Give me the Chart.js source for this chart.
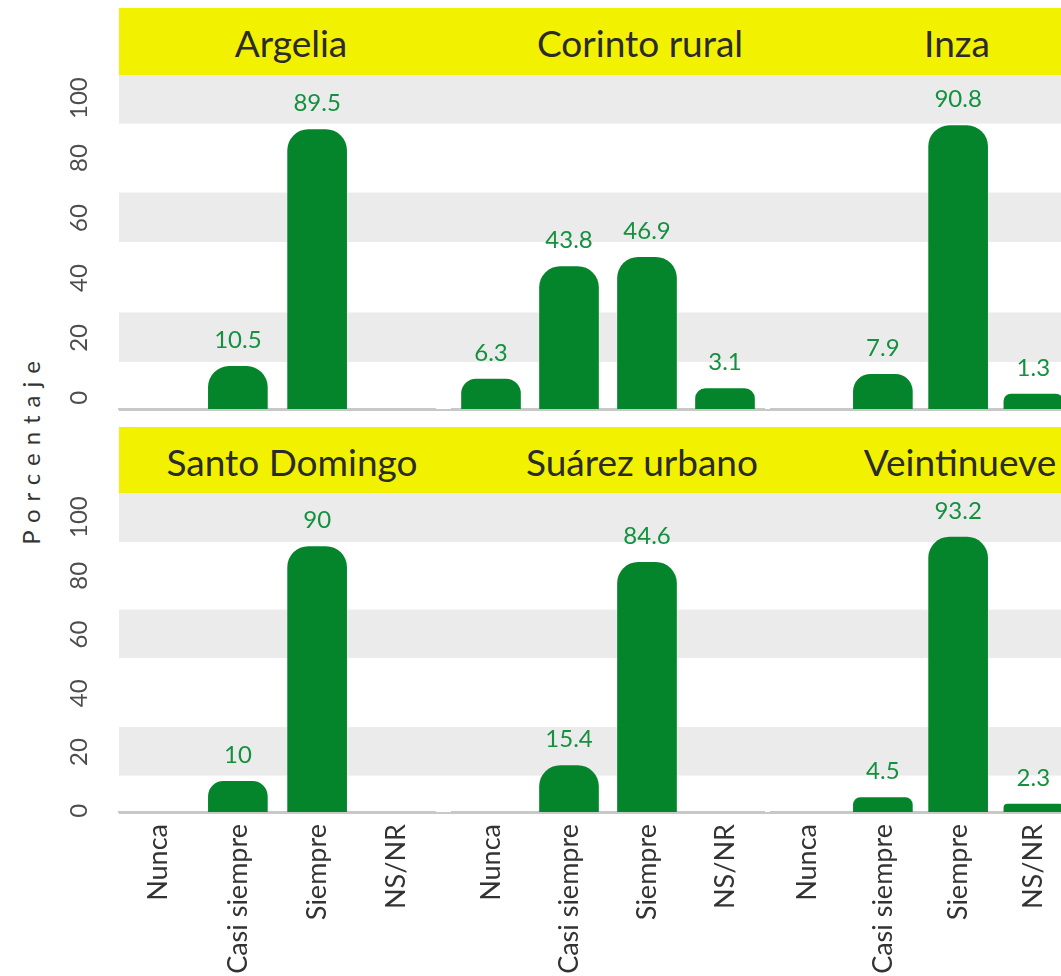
<!DOCTYPE html>
<html lang="es">
<head>
<meta charset="UTF-8">
<title>Porcentaje por municipio</title>
<script src="https://cdn.jsdelivr.net/npm/chart.js@4.4.1/dist/chart.umd.min.js"></script>
<style>
    body { margin: 0; background: #fff; }
    .lienzo { position: relative; width: 1061px; height: 976px; overflow: hidden; font-family: Lato, "Open Sans", sans-serif; }
    .tira { position: absolute; left: 119px; width: 942px; height: 67px; background: #f2f200; }
    .tira span { position: absolute; top: 50%; transform: translate(-50%, -50%); font-size: 37px; color: #2b2b2b; white-space: nowrap; }
    canvas { position: absolute; }
    .ytitulo { position: absolute; left: 30px; top: 449px; transform: translate(-50%, -50%) rotate(-90deg); font-size: 24px; letter-spacing: 8px; color: #333; white-space: nowrap; }
</style>
</head>
<body>
<div class="lienzo">
    <div class="tira" style="top:8px">
        <span style="left:172px">Argelia</span>
        <span style="left:521px">Corinto rural</span>
        <span style="left:838px">Inza</span>
    </div>
    <div class="tira" style="top:427px">
        <span style="left:173px">Santo Domingo</span>
        <span style="left:523px">Suárez urbano</span>
        <span style="left:841px">Veintinueve</span>
    </div>
    <div class="ytitulo">Porcentaje</div>

    <canvas id="c_argelia" width="436" height="340" style="left:0;top:75px"></canvas>
    <canvas id="c_corinto" width="334" height="340" style="left:436px;top:75px"></canvas>
    <canvas id="c_inza" width="301" height="340" style="left:770px;top:75px"></canvas>
    <canvas id="c_santo" width="436" height="483" style="left:0;top:493px"></canvas>
    <canvas id="c_suarez" width="334" height="483" style="left:436px;top:493px"></canvas>
    <canvas id="c_veinti" width="301" height="483" style="left:770px;top:493px"></canvas>
</div>

<script>
    // datos
    var categorias = ['Nunca', 'Casi siempre', 'Siempre', 'NS/NR'];
    var argelia = [null, 10.5, 89.5, null];
    var corinto = [6.3, 43.8, 46.9, 3.1];
    var inza = [null, 7.9, 90.8, 1.3];
    var santoDomingo = [null, 10, 90, null];
    var suarez = [null, 15.4, 84.6, null];
    var veintinueve = [null, 4.5, 93.2, 2.3];
    var ticksY = [0, 20, 40, 60, 80, 100];
    var bandas = [[12, 28.5], [52, 68.5], [91.5, 110]];

    var verde = '#05852b';
    var verdeTexto = '#13913e';

    // franjas grises de fondo + linea base continua entre paneles
    var pluginBandas = {
        id: 'bandas',
        beforeDraw: function (chart) {
            var ctx = chart.ctx;
            var area = chart.chartArea;
            var y = chart.scales.y;
            var x0 = y.options.display ? area.left : 0;
            ctx.save();
            ctx.fillStyle = '#ebebeb';
            bandas.forEach(function (b) {
                var arriba = Math.max(y.getPixelForValue(b[1]), area.top);
                var abajo = Math.min(y.getPixelForValue(b[0]), area.bottom);
                ctx.fillRect(x0, arriba, chart.width - x0, abajo - arriba);
            });
            ctx.strokeStyle = '#c8c8c8';
            ctx.lineWidth = 2;
            ctx.beginPath();
            ctx.moveTo(x0, area.bottom + 1);
            ctx.lineTo(chart.width, area.bottom + 1);
            ctx.stroke();
            ctx.restore();
        }
    };

    // etiquetas de valor encima de las barras
    var pluginEtiquetas = {
        id: 'etiquetas',
        afterDatasetsDraw: function (chart) {
            var ctx = chart.ctx;
            var meta = chart.getDatasetMeta(0);
            var datos = chart.data.datasets[0].data;
            ctx.save();
            ctx.font = '24px Lato, "Open Sans", sans-serif';
            ctx.fillStyle = verdeTexto;
            ctx.textAlign = 'center';
            ctx.textBaseline = 'bottom';
            meta.data.forEach(function (barra, i) {
                if (datos[i] == null) return;
                ctx.fillText(String(datos[i]), barra.x, barra.y - 14);
            });
            ctx.restore();
        }
    };

    function crearPanel(id, valores, conEjeY, conEtiquetasX, yMin, yMax, padIzq, padDer) {
        return new Chart(document.getElementById(id), {
            type: 'bar',
            data: {
                labels: categorias,
                datasets: [{
                    data: valores,
                    backgroundColor: verde,
                    borderRadius: { topLeft: 21, topRight: 21 },
                    borderSkipped: 'bottom',
                    barThickness: 59,
                    base: yMin
                }]
            },
            options: {
                responsive: false,
                animation: false,
                layout: { padding: { left: padIzq, right: padDer, top: 0, bottom: 0 } },
                plugins: { legend: { display: false }, tooltip: { enabled: false } },
                scales: {
                    x: {
                        grid: { display: false, drawTicks: false },
                        border: { color: '#c8c8c8', width: 2 },
                        ticks: {
                            display: conEtiquetasX,
                            minRotation: 90, maxRotation: 90,
                            padding: 12,
                            color: '#333',
                            font: { family: 'Lato', size: 27 }
                        },
                        afterFit: function (s) {
                            s.height = conEtiquetasX ? 164 : 6;
                            s.paddingLeft = 0;
                            s.paddingRight = 0;
                        }
                    },
                    y: {
                        display: conEjeY,
                        min: yMin, max: yMax,
                        grid: { display: false, drawTicks: false },
                        border: { display: false },
                        ticks: {
                            minRotation: 90, maxRotation: 90,
                            crossAlign: 'center',
                            padding: 19,
                            color: '#4d4d4d',
                            font: { family: 'Lato', size: 24 }
                        },
                        afterBuildTicks: function (s) {
                            s.ticks = ticksY.map(function (v) { return { value: v }; });
                        },
                        afterFit: function (s) {
                            s.width = conEjeY ? 119 : 0;
                            s.paddingTop = 0;
                            s.paddingBottom = 0;
                        }
                    }
                }
            },
            plugins: [pluginBandas, pluginEtiquetas]
        });
    }

    crearPanel('c_argelia', argelia, true, false, -3.7, 107.7, 0, 0);
    crearPanel('c_corinto', corinto, false, false, -3.7, 107.7, 16, 6);
    crearPanel('c_inza', inza, false, false, -3.7, 107.7, 0, 0);
    crearPanel('c_santo', santoDomingo, true, true, -0.4, 108.2, 0, 0);
    crearPanel('c_suarez', suarez, false, true, -0.4, 108.2, 16, 6);
    crearPanel('c_veinti', veintinueve, false, true, -0.4, 108.2, 0, 0);
</script>
</body>
</html>
